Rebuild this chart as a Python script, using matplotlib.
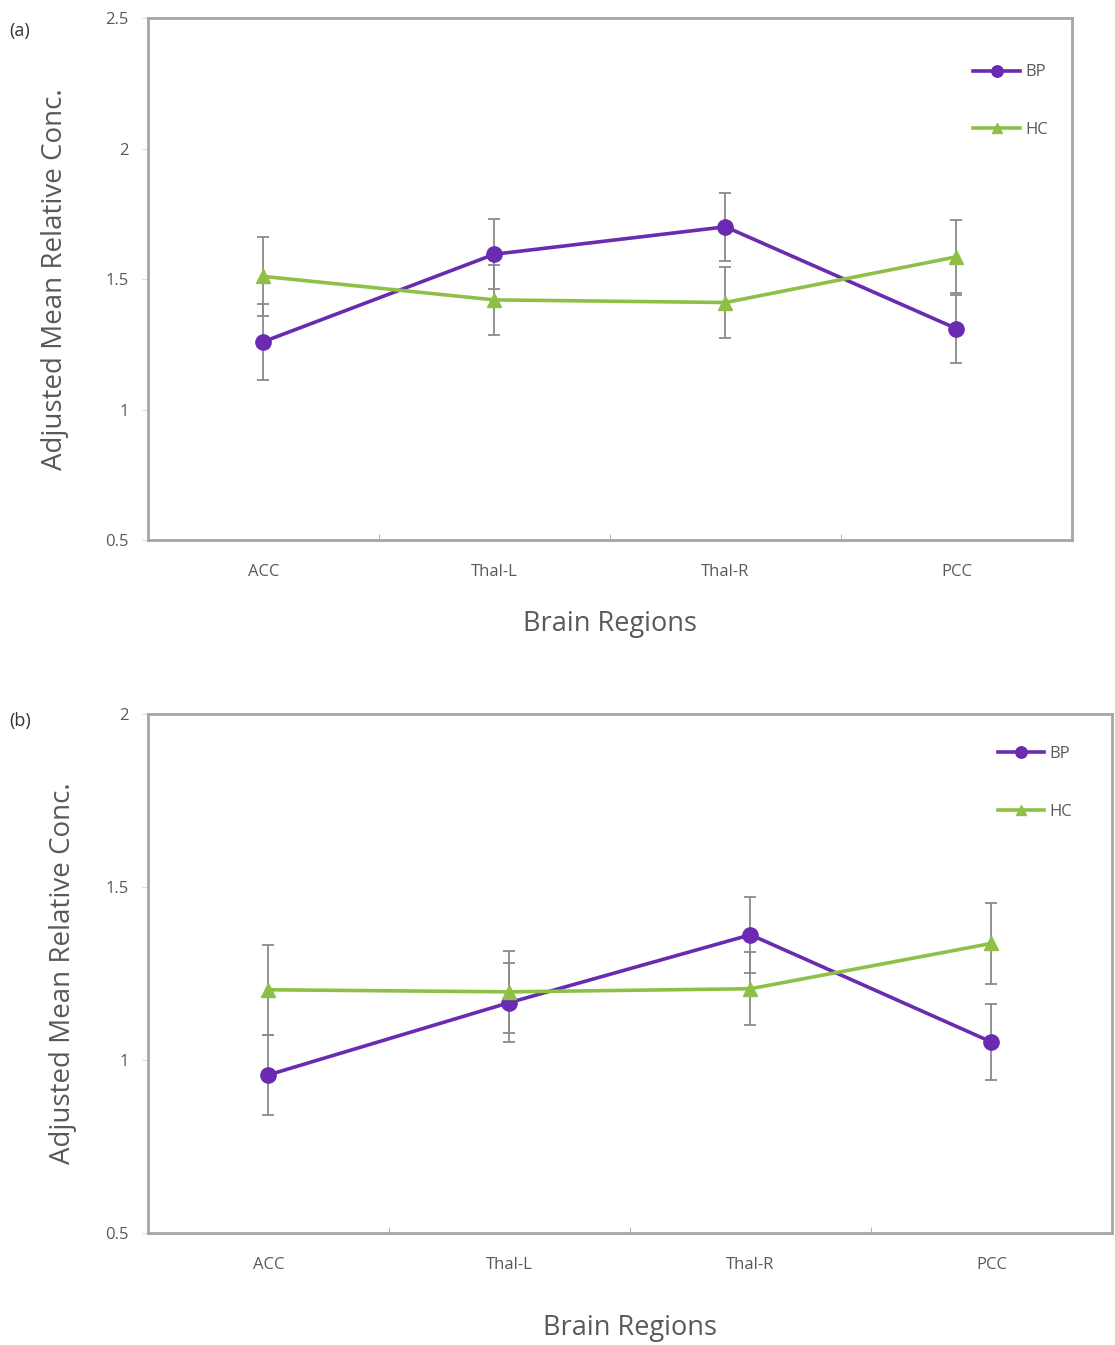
import matplotlib
matplotlib.use("Agg")
import matplotlib.pyplot as plt
import numpy as np

plt.rcParams['font.family'] = ['Open Sans', 'DejaVu Sans']

regions = ["ACC", "Thal-L", "Thal-R", "PCC"]

# Panel (a)
a_bp = [1.26, 1.595, 1.70, 1.31]
a_bp_err = [0.145, 0.135, 0.13, 0.13]
a_hc = [1.51, 1.42, 1.41, 1.585]
a_hc_err = [0.15, 0.135, 0.135, 0.14]

# Panel (b)
b_bp = [0.957, 1.166, 1.362, 1.052]
b_bp_err = [0.115, 0.115, 0.11, 0.11]
b_hc = [1.203, 1.197, 1.206, 1.337]
b_hc_err = [0.13, 0.118, 0.106, 0.118]

a_yticks = [0.5, 1, 1.5, 2, 2.5]
b_yticks = [0.5, 1, 1.5, 2]

BP_COLOR = "#6a2bb0"
HC_COLOR = "#8fc046"
ERR_COLOR = "#8a8a8a"
SPINE_COLOR = "#a6a6a6"
TEXT_COLOR = "#595959"

fig = plt.figure(figsize=(11.15, 13.45), dpi=100)

def panel(rect, bp, bp_err, hc, hc_err, yticks, letter, letter_pos, legend_anchor,
          ylabelpad, xlabelpad):
    ax = fig.add_axes(rect)
    x = np.arange(len(regions))
    ax.errorbar(x, bp, yerr=bp_err, fmt='none', ecolor=ERR_COLOR, elinewidth=1.3,
                capsize=4, capthick=1.3, zorder=2)
    ax.errorbar(x, hc, yerr=hc_err, fmt='none', ecolor=ERR_COLOR, elinewidth=1.3,
                capsize=4, capthick=1.3, zorder=2)
    ax.plot(x, bp, color=BP_COLOR, lw=2.6, marker='o', ms=11, label="BP", zorder=3)
    ax.plot(x, hc, color=HC_COLOR, lw=2.6, marker='^', ms=10, label="HC", zorder=3)
    ax.set_xlim(-0.5, len(regions) - 0.5)
    ax.set_ylim(yticks[0], yticks[-1])
    ax.set_yticks(yticks)
    ax.set_yticklabels([f"{t:g}" for t in yticks])
    ax.set_xticks(x)
    ax.set_xticklabels(regions)
    ax.set_xticks(np.arange(0.5, len(regions) - 0.5, 1), minor=True)
    ax.tick_params(axis='x', which='major', length=0, pad=17, labelsize=12, labelcolor=TEXT_COLOR)
    ax.tick_params(axis='x', which='minor', length=4, direction='in', color=SPINE_COLOR)
    ax.tick_params(axis='y', which='major', length=4, direction='out', color="#dddddd",
                   pad=10, labelsize=12, labelcolor=TEXT_COLOR)
    for s in ax.spines.values():
        s.set_color(SPINE_COLOR)
        s.set_linewidth(2)
    ax.set_ylabel("Adjusted Mean Relative Conc.", fontsize=20, color=TEXT_COLOR, labelpad=ylabelpad)
    ax.set_xlabel("Brain Regions", fontsize=19.5, color=TEXT_COLOR, labelpad=xlabelpad)
    leg = ax.legend(loc='upper right', bbox_to_anchor=legend_anchor, frameon=False,
                    handlelength=2.8, handletextpad=0.3, labelspacing=2.5, fontsize=12,
                    markerscale=0.75)
    for t in leg.get_texts():
        t.set_color(TEXT_COLOR)
    fig.text(letter_pos[0], letter_pos[1], letter, fontsize=13, color="#333333",
             ha='left', va='center')
    return ax

panel([0.1327, 0.5985, 0.8287, 0.3881], a_bp, a_bp_err, a_hc, a_hc_err, a_yticks,
      "(a)", (0.008, 0.977), (0.99, 0.94), 26, 22)
panel([0.1327, 0.0833, 0.8646, 0.3858], b_bp, b_bp_err, b_hc, b_hc_err, b_yticks,
      "(b)", (0.008, 0.464), (0.974, 0.967), 20, 30)

fig.savefig("out.png", dpi=100, facecolor="white")
